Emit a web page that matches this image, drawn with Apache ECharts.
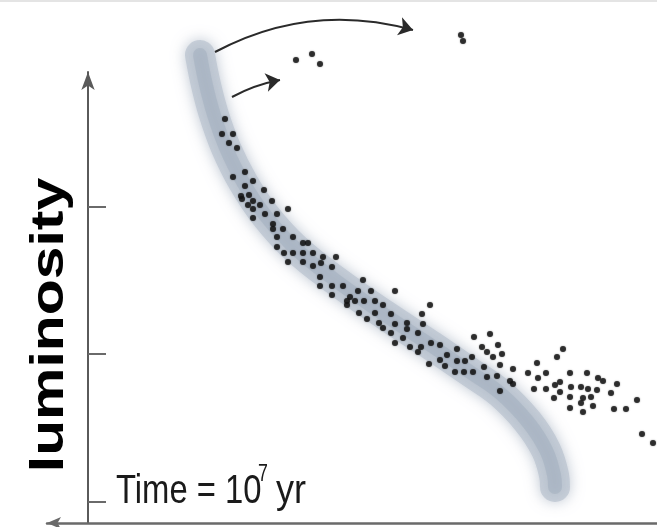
<!DOCTYPE html>
<html>
<head>
<meta charset="utf-8">
<script src="https://cdn.jsdelivr.net/npm/echarts@6/dist/echarts.min.js"></script>
<style>
html,body{margin:0;padding:0;background:#fff;}
#chart{width:657px;height:527px;}
</style>
</head>
<body>
<div id="chart"></div>
<script>
// Stars in the cluster (x: colour/temperature index, y: luminosity index)
var starX = [137,134,145,141,149,157,145,165,157,176,153,161,165,154,184,160,172,165,200,177,189,165,
  185,185,195,189,205,215,220,189,196,205,215,225,235,248,200,215,225,233,244,232,232,244,255,275,270,244,262,
  283,307,259,259,267,276,287,295,342,271,279,287,303,334,291,295,307,319,319,335,303,315,330,307,322,333,330,
  343,352,369,359,352,341,369,377,357,
  386,402,394,399,410,414,405,384,412,396,376,385,399,409,425,422,425,412,440,449,458,450,446,458,467,466,469,
  475,482,499,510,515,529,472,483,493,500,509,472,523,482,495,493,503,505,482,495,526,538,549,554,565,
  208,224,232,373,375,367];
var starY = [404,389,389,380,375,351,346,342,337,333,327,328,322,324,322,318,318,314,314,309,309,305,
  299,294,294,286,286,280,280,276,270,270,270,270,266,266,261,261,257,260,256,246,237,237,237,243,232,228,226,
  232,232,222,218,222,222,222,218,218,210,204,210,209,209,200,195,199,200,194,199,190,185,190,180,176,176,171,
  180,178,174,168,163,159,162,162,157,
  186,189,176,171,178,169,166,166,158,156,151,151,146,147,154,142,139,132,150,160,150,145,134,134,138,125,166,
  174,150,150,145,142,139,141,136,136,134,133,131,130,126,125,120,126,117,115,111,114,114,123,89,80,
  463,469,459,488,482,151];

// Main-sequence band (centre line)
var bandX = [112,118,126,138,155,177,207,247,297,344,382,412,440,458,466,467];
var bandY = [468,438,408,375,341,308,275,243,208,177,151,130,101,73,48,36];

// Evolution arrows [x1, y1, x2, y2]
var arrow1 = [127,471,325,493];
var arrow2 = [144,426,192,443];

// Luminosity tick values
var yTicks = [21,169,316];

var stars = starX.map(function(x,i){return [x, starY[i]];});
var band = bandX.map(function(x,i){return [x, bandY[i]];});

var chart = echarts.init(document.getElementById('chart'), null, {renderer:'canvas'});
chart.setOption({
  backgroundColor:'#fff',
  animation:false,
  grid:{left:47,right:0,top:72,bottom:4,outerBoundsMode:'none',containLabel:false},
  xAxis:{type:'value',min:-41,max:569,
    axisLine:{show:true,onZero:true,symbol:['arrow','none'],symbolSize:[9,14],lineStyle:{color:'#6a6a6a',width:2.5}},
    axisTick:{show:false},axisLabel:{show:false},splitLine:{show:false}},
  yAxis:{type:'value',min:0,max:451,
    axisLine:{show:true,onZero:true,symbol:['none','arrow'],symbolSize:[10,18],lineStyle:{color:'#5a5a5a',width:2}},
    axisTick:{show:true,inside:true,length:18,customValues:yTicks,lineStyle:{color:'#6a6a6a',width:2}},
    axisLabel:{show:false},splitLine:{show:false}},
  series:[
    {type:'line',data:band,smooth:0.4,showSymbol:false,clip:false,z:1,silent:true,
      lineStyle:{width:30,cap:'round',join:'round',color:'rgba(190,199,210,0.8)',shadowBlur:14,shadowColor:'rgba(165,176,192,0.9)'}},
    {type:'line',data:band,smooth:0.4,showSymbol:false,clip:false,z:2,silent:true,
      lineStyle:{width:14,cap:'round',join:'round',color:'rgba(150,162,180,0.35)',shadowBlur:10,shadowColor:'rgba(150,162,180,0.5)'}},
    {type:'lines',coordinateSystem:'cartesian2d',z:3,silent:true,clip:false,
      symbol:['none','arrow'],symbolSize:[11,14],
      lineStyle:{color:'#2a2a2a',width:2,opacity:1,curveness:0.2},
      data:[{coords:[[arrow1[0],arrow1[1]],[arrow1[2],arrow1[3]]]}]},
    {type:'lines',coordinateSystem:'cartesian2d',z:3,silent:true,clip:false,
      symbol:['none','arrow'],symbolSize:[11,14],
      lineStyle:{color:'#2a2a2a',width:2,opacity:1,curveness:0.08},
      data:[{coords:[[arrow2[0],arrow2[1]],[arrow2[2],arrow2[3]]]}]},
    {type:'scatter',data:stars,symbol:'circle',symbolSize:6,clip:false,z:4,silent:true,
      itemStyle:{color:'#151515',shadowBlur:1.5,shadowColor:'rgba(0,0,0,0.6)'}}
  ],
  graphic:[
    {type:'line',shape:{x1:0,y1:1,x2:657,y2:1},style:{stroke:'#e4e4e4',lineWidth:2},silent:true},
    {type:'text',x:50,y:325,rotation:Math.PI/2,scaleX:1.28,scaleY:1,silent:true,
      style:{text:'luminosity',font:'bold 46px "Liberation Sans", Arial, sans-serif',fill:'#000',align:'center',verticalAlign:'middle'}},
    {type:'text',x:116,y:492,scaleX:0.8,silent:true,
      style:{text:'Time = 10',font:'41px "Liberation Sans", Arial, sans-serif',fill:'#1a1a1a',align:'left',verticalAlign:'middle'}},
    {type:'text',x:258,y:474,scaleX:0.74,silent:true,
      style:{text:'7',font:'24px "Liberation Sans", Arial, sans-serif',fill:'#1a1a1a',align:'left',verticalAlign:'middle'}},
    {type:'text',x:276,y:492,scaleX:0.88,silent:true,
      style:{text:'yr',font:'41px "Liberation Sans", Arial, sans-serif',fill:'#1a1a1a',align:'left',verticalAlign:'middle'}}
  ]
});
</script>
</body>
</html>
